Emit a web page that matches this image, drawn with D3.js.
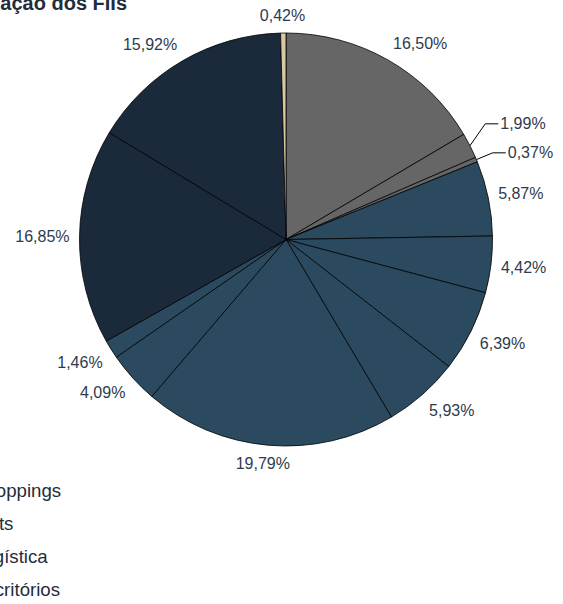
<!DOCTYPE html>
<html>
<head>
<meta charset="utf-8">
<script src="https://cdn.jsdelivr.net/npm/d3@7"></script>
<style>
  html, body { margin: 0; padding: 0; background: #fff; }
  svg { display: block; font-family: "Liberation Sans", Arial, sans-serif; }
</style>
</head>
<body>
<div id="chart"></div>
<script>
// ---- data (clockwise from 12 o'clock) ----
const sliceValues = [16.50, 1.99, 0.37, 5.87, 4.42, 6.39, 5.93, 19.79, 4.09, 1.46, 16.85, 15.92, 0.42];
const sliceGroups = ["Shoppings", "Shoppings", "Shoppings",
  "Escritórios", "Escritórios", "Escritórios", "Escritórios", "Escritórios", "Escritórios", "Escritórios",
  "Logística", "Logística", "Flats"];
const categories = ["Shoppings", "Flats", "Logística", "Escritórios"];
const categoryColors = ["#666666", "#D8C9A3", "#1B2A3B", "#2B4A5F"];
const titleText = "Alocação dos FIIs";

// ---- layout ----
const width = 563, height = 604;
const cx = 286, cy = 239.5, radius = 206.5;
const labelColor = "#2E3B4E";

const color = d3.scaleOrdinal().domain(categories).range(categoryColors);

const svg = d3.select("#chart").append("svg")
  .attr("width", width)
  .attr("height", height);

svg.append("text")
  .attr("x", -43)
  .attr("y", 10)
  .attr("font-size", 20)
  .attr("font-weight", "bold")
  .attr("fill", "#1F2D3D")
  .text(titleText);

const pie = d3.pie().sort(null).value(d => d);
const arcs = pie(sliceValues);
const arc = d3.arc().innerRadius(0).outerRadius(radius);

const g = svg.append("g").attr("transform", "translate(" + cx + "," + cy + ")");

g.selectAll("path.slice")
  .data(arcs)
  .enter()
  .append("path")
  .attr("class", "slice")
  .attr("d", arc)
  .attr("fill", (d, i) => color(sliceGroups[i]))
  .attr("stroke", "#000")
  .attr("stroke-width", 0.8)
  .attr("stroke-linejoin", "round");

// ---- labels ----
const fmt = v => v.toFixed(2).replace(".", ",") + "%";
const clamp = v => Math.max(-1, Math.min(1, v));
const polar = (r, a) => [r * Math.sin(a), -r * Math.cos(a)];

const labels = arcs.map((d, i) => {
  let a = (d.startAngle + d.endAngle) / 2;
  return { a: a, value: d.value, leader: d.value < 2.5 && Math.sin(a) > 0.05 };
});

// leader labels: start at r+34, then spread apart vertically
const leaderLabels = labels.filter(l => l.leader);
leaderLabels.forEach(l => {
  let p = polar(radius + 34, l.a);
  l.x = p[0];
  l.y = p[1];
});
leaderLabels.sort((a, b) => a.y - b.y);
for (let k = 1; k < leaderLabels.length; k++) {
  let p0 = leaderLabels[k - 1], p1 = leaderLabels[k];
  if (p1.y - p0.y < 29) {
    let mid = (p0.y + p1.y) / 2;
    p0.y = mid - 14.5;
    p1.y = mid + 14.5;
  }
}

const lab = g.selectAll("text.lbl")
  .data(labels)
  .enter()
  .append("text")
  .attr("class", "lbl")
  .attr("font-size", 16)
  .attr("fill", labelColor)
  .attr("dy", "0.35em")
  .text(d => fmt(d.value));

lab.each(function (d) {
  let w = this.getComputedTextLength();
  let h = 16;
  if (d.leader) {
    d3.select(this).attr("text-anchor", "start").attr("x", d.x).attr("y", d.y);
    let e = polar(radius, d.a);
    g.append("polyline")
      .attr("points", [e, [d.x - 15, d.y], [d.x - 2, d.y]].map(p => p.join(",")).join(" "))
      .attr("fill", "none")
      .attr("stroke", "#000")
      .attr("stroke-width", 1);
  } else {
    let p = polar(radius + 10, d.a);
    let x = p[0] + (w / 2) * clamp(2 * Math.sin(d.a));
    let y = p[1] - (h / 2) * clamp(2 * Math.cos(d.a));
    d3.select(this).attr("text-anchor", "middle").attr("x", x).attr("y", y);
  }
});

// ---- legend (partly outside the left edge) ----
const legend = svg.append("g").attr("transform", "translate(-27,0)");
const legendY = d3.scalePoint().domain(categories).range([497, 596]);

legend.selectAll("rect")
  .data(categories)
  .enter()
  .append("rect")
  .attr("x", -20)
  .attr("y", d => legendY(d) - 12)
  .attr("width", 12)
  .attr("height", 12)
  .attr("fill", d => color(d));

legend.selectAll("text")
  .data(categories)
  .enter()
  .append("text")
  .attr("x", 0)
  .attr("y", d => legendY(d))
  .attr("font-size", 18.67)
  .attr("fill", "#1F2D3D")
  .text(d => d);
</script>
</body>
</html>
